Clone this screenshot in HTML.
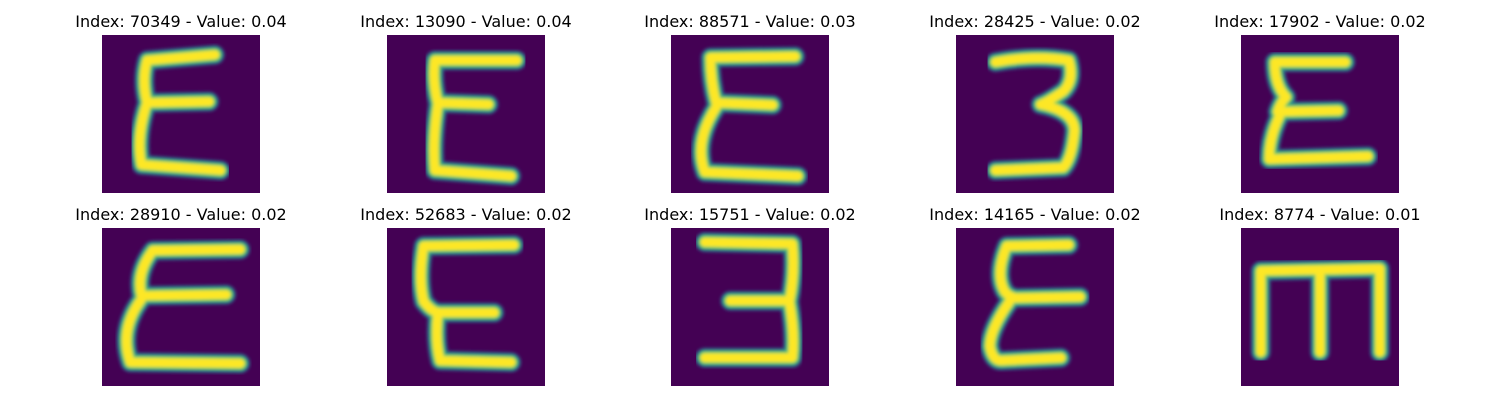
<!DOCTYPE html>
<html><head><meta charset="utf-8"><style>
html,body{margin:0;padding:0;background:#fff;width:1500px;height:400px;overflow:hidden;font-family:"DejaVu Sans","Liberation Sans",sans-serif;}
</style></head><body>
<svg id="fig" width="1500" height="400" xmlns="http://www.w3.org/2000/svg"></svg>
<script>
const indices = [70349, 13090, 88571, 28425, 17902, 28910, 52683, 15751, 14165, 8774];
const values = [0.04, 0.04, 0.03, 0.02, 0.02, 0.02, 0.02, 0.02, 0.02, 0.01];
const glyphs = [
 "M20,3.5 L8,4.5 Q7,8 8,12 L19,11.8 M8,12 Q6,18 7,23 L21,24",
 "M23,4.5 L8.5,4.5 Q8,8 9,12 L18,12.3 M9,12.5 Q8,19 8.5,24 L22,25",
 "M22,3.8 L7,4 Q7,8 8,12 L18,12.4 M8,12.8 Q4,19 6,24.3 L22.5,25",
 "M7,4.8 Q14,3.5 20,4.5 Q21,8 19,10 Q16,12 15,12.3 Q21,13.5 21,17 Q20.5,22 19,23.5 L7,24",
 "M18.5,4.8 L6,4.8 Q6,9 8,11 Q7,12 6.5,13.6 L17.3,13.4 M7,14 Q5,18 5,22 L22.5,21.5",
 "M24.5,3.8 L9,4 Q6,8 7,12 L22,11.8 M7,12.6 Q3,18 5,23.8 L24.5,24",
 "M22.5,3 L6.5,3.2 Q5.5,9 6.5,13 Q8,15 9.4,15 L19,15 M9,15.3 Q8.5,20 9.4,23.5 L22,23.8",
 "M6,2.5 L21.5,2.8 Q22,8 21,12.9 L10.5,12.9 M21,13.2 Q22,19 21.5,23 L6,23",
 "M20,3 L9,3.2 Q7,8 8.5,11 Q9,12 10.5,12.4 L22,12.2 M9.5,13 Q6,18 6,21 Q6.5,23.5 8,23.5 L18.6,23",
 "M3.5,22 L3.5,7.6 L24.6,7.2 L24.6,22 M14,7.6 L14,22"
];
const svg = document.getElementById('fig');
const NS = 'http://www.w3.org/2000/svg';
const colX = [102, 387, 671, 956, 1241];
const rowY = [35, 228];
const size = 158;
const defs = document.createElementNS(NS,'defs');
svg.appendChild(defs);
const blur = document.createElementNS(NS,'filter');
blur.setAttribute('id','soft');
blur.innerHTML='<feGaussianBlur stdDeviation="0.3"/>';
defs.appendChild(blur);
for (let i = 0; i < indices.length; i++) {
  const x = colX[i % 5], y = rowY[Math.floor(i / 5)];
  const g = document.createElementNS(NS,'g');
  
  
  svg.appendChild(g);
  const t = document.createElementNS(NS,'text');
  
  
  t.setAttribute('x', x + size / 2);
  t.setAttribute('y', y - 8);
  t.setAttribute('text-anchor', 'middle');
  t.setAttribute('font-size', '16');
  t.setAttribute('font-family', 'DejaVu Sans, Liberation Sans, sans-serif');
  t.setAttribute('fill', '#000');
  t.textContent = 'Index: ' + indices[i] + ' - Value: ' + values[i].toFixed(2);
  g.appendChild(t);
  const cp = document.createElementNS(NS,'clipPath');
  cp.setAttribute('id','cp'+i);
  cp.innerHTML = '<rect x="'+x+'" y="'+y+'" width="'+size+'" height="'+size+'"/>';
  defs.appendChild(cp);
  const bg = document.createElementNS(NS,'rect');
  
  
  bg.setAttribute('x', x); bg.setAttribute('y', y);
  bg.setAttribute('width', size); bg.setAttribute('height', size);
  bg.setAttribute('fill', '#440154');
  g.appendChild(bg);
  const s = size / 28;
  const gg = document.createElementNS(NS,'g');
  gg.setAttribute('clip-path','url(#cp'+i+')');
  g.appendChild(gg);
  const inner = document.createElementNS(NS,'g');
  inner.setAttribute('transform','translate('+x+','+y+') scale('+s+')');
  inner.setAttribute('filter','url(#soft)');
  gg.appendChild(inner);
  const layers = [['#31688e',3.5,0.8],['#21918c',2.9,1],['#5ec962',2.3,1],['#fde725',1.6,1]];
  layers.forEach(L => {
    const p = document.createElementNS(NS,'path');
    
    
    p.setAttribute('d', glyphs[i]);
    p.setAttribute('fill','none');
    p.setAttribute('stroke', L[0]);
    p.setAttribute('stroke-width', L[1]);
    p.setAttribute('stroke-opacity', L[2]);
    p.setAttribute('stroke-linecap','round');
    p.setAttribute('stroke-linejoin','round');
    inner.appendChild(p);
  });
}
</script>
</body></html>
